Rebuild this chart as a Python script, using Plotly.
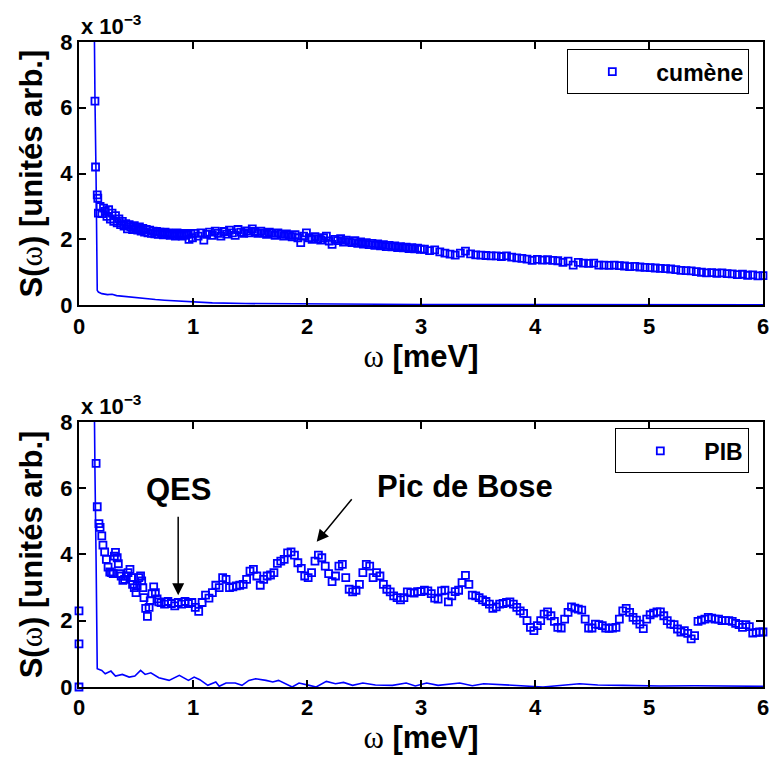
import plotly.graph_objects as go

# ---------------- data (S(omega) in units of 1e-3) ----------------
def grid(start, step, n):
    return [round(start + i * step, 4) for i in range(n)]

# cumène (top panel) - markers
cum_x_a = [0.14, 0.145, 0.16, 0.165]
cum_y_a = [6.2, 4.2, 3.35, 3.25]
cum_y_b = [2.80, 3.00, 2.78, 2.95, 2.85, 2.70, 2.90, 2.62, 2.80, 2.55, 2.72, 2.50, 2.62, 2.45,
           2.55, 2.40, 2.48, 2.32, 2.45, 2.38, 2.30, 2.42, 2.33, 2.28, 2.38, 2.25, 2.33, 2.22,
           2.30, 2.20, 2.28, 2.18, 2.25, 2.17, 2.24, 2.15, 2.22, 2.20, 2.14, 2.22, 2.16, 2.20,
           2.12, 2.18, 2.15, 2.10, 2.20, 2.14, 2.17, 2.10, 2.18, 2.12, 2.15, 2.00, 2.18, 2.05]
cum_x_b = grid(0.17, 0.015, len(cum_y_b))
cum_y_c = [2.18, 2.10, 2.20, 1.98, 2.15, 2.22, 2.12, 2.25, 2.18, 2.10, 2.24, 2.16, 2.28, 2.20,
           2.12, 2.30, 2.22, 2.18, 2.26, 2.20, 2.32, 2.24, 2.18, 2.25, 2.20, 2.15, 2.22, 2.18,
           2.12, 2.20, 2.15, 2.10, 2.17, 2.12, 2.08, 2.14, 2.05, 1.90, 2.10, 2.20, 2.05, 2.00,
           2.08, 2.02, 1.98, 2.05, 2.10, 1.95, 1.85, 2.00, 1.96, 2.02, 1.92, 1.98, 1.93, 1.90,
           1.96, 1.88, 1.92, 1.86, 1.90, 1.84, 1.88, 1.82, 1.86, 1.80, 1.84, 1.78, 1.82, 1.77,
           1.80, 1.75, 1.78, 1.74, 1.76, 1.72, 1.75, 1.71, 1.73, 1.70]
cum_x_c = grid(1.02, 0.025, len(cum_y_c))
cum_y_d = [1.70, 1.66, 1.68, 1.62, 1.58, 1.55, 1.52, 1.58, 1.64, 1.56, 1.53, 1.52, 1.51, 1.50,
           1.50, 1.48, 1.50, 1.46, 1.44, 1.42, 1.40, 1.36, 1.39, 1.37, 1.38, 1.36, 1.35, 1.30,
           1.34, 1.22, 1.30, 1.28, 1.27, 1.28, 1.22, 1.22, 1.21, 1.22, 1.20, 1.19, 1.17, 1.18,
           1.16, 1.15, 1.14, 1.13, 1.12, 1.11, 1.10, 1.08, 1.06, 1.05, 1.04, 1.02, 1.00, 0.98,
           0.99, 0.97, 0.98, 0.96, 0.95, 0.93, 0.94, 0.91, 0.92, 0.89, 0.90]
cum_x_d = grid(3.03, 0.045, len(cum_y_d))
cumene_x = cum_x_a + cum_x_b + cum_x_c + cum_x_d
cumene_y = cum_y_a + cum_y_b + cum_y_c + cum_y_d

# cumène resolution (line)
res1_x = [0.12, 0.13, 0.14, 0.15, 0.155, 0.16, 0.17, 0.2, 0.25, 0.29, 0.33, 0.38, 0.44, 0.5,
          0.58, 0.67, 0.75, 0.88, 1.0, 1.17, 1.46, 1.8, 2.2, 2.6, 3.0, 3.5, 4.0, 4.5, 5.0, 5.5, 6.0]
res1_y = [14.0, 9.0, 6.3, 3.8, 2.0, 0.45, 0.40, 0.35, 0.32, 0.33, 0.29, 0.27, 0.25, 0.23,
          0.20, 0.17, 0.15, 0.12, 0.10, 0.07, 0.05, 0.04, 0.03, 0.03, 0.02, 0.02, 0.02, 0.01,
          0.01, 0.01, 0.01]

# PIB (bottom panel) - markers
pib_x_a = [0.0, 0.0, 0.0, 0.15, 0.16, 0.175, 0.185, 0.2, 0.21, 0.225, 0.24, 0.255, 0.27, 0.285,
           0.30, 0.31, 0.32, 0.335, 0.345, 0.36, 0.37, 0.385, 0.40, 0.415, 0.43, 0.447, 0.46,
           0.47, 0.485, 0.50, 0.51, 0.525, 0.54, 0.55, 0.56, 0.57, 0.585, 0.60, 0.615, 0.625,
           0.64, 0.655, 0.67, 0.685, 0.70]
pib_y_a = [0.0, 1.3, 2.3, 6.75, 5.44, 4.93, 4.82, 4.56, 4.28, 4.08, 3.85, 3.62, 3.47, 3.45,
           3.42, 3.95, 4.06, 3.90, 3.72, 3.42, 3.35, 3.22, 3.25, 3.35, 3.45, 3.55, 3.30,
           3.10, 3.00, 2.85, 3.05, 3.30, 3.35, 3.20, 3.00, 2.70, 2.37, 2.13, 2.40, 2.60,
           2.82, 3.02, 2.85, 2.66, 2.57]
pib_y_b = [2.55, 2.50, 2.58, 2.52, 2.45, 2.55, 2.50, 2.58, 2.52, 2.55, 2.40, 2.28, 2.55, 2.77,
           2.68, 2.85, 3.07, 3.00, 3.30, 3.25, 3.00, 3.02, 3.05, 3.07, 3.10, 3.25, 3.50, 3.55,
           3.35, 3.07, 3.25, 3.35, 3.38, 3.45, 3.73, 3.80, 3.85, 4.05, 4.08, 3.98, 3.75, 3.58,
           3.35, 3.30, 3.45, 3.80, 3.98, 3.90, 3.65, 3.42, 3.18, 3.35, 3.65, 3.70, 3.30, 2.95,
           2.87, 2.92, 3.10, 3.45, 3.70, 3.65, 3.30, 3.45, 3.35, 3.10, 2.95, 2.87, 2.75, 2.70,
           2.63, 2.70, 2.87, 2.85, 2.83, 2.88, 2.88, 2.92, 2.90, 2.82, 2.68, 2.65, 2.90, 2.92,
           2.57, 2.75, 2.88, 2.92, 3.15, 3.37, 3.10, 2.77, 2.75, 2.70, 2.63, 2.58, 2.50, 2.37,
           2.42, 2.50, 2.52, 2.55, 2.57, 2.50, 2.40, 2.30, 2.22, 2.00, 1.80, 1.70, 1.85, 2.00,
           2.20, 2.27, 2.15, 1.98, 1.80, 1.78, 2.05, 2.25, 2.42, 2.38, 2.35, 2.32, 2.05, 1.78,
           1.78, 1.90, 1.88, 1.85, 1.78, 1.77, 1.78, 1.80, 2.05, 2.30, 2.37, 2.25, 2.10, 2.02,
           1.90, 1.76, 2.05, 2.18, 2.23, 2.27, 2.27, 2.15, 2.00, 1.90, 1.88, 1.75, 1.66, 1.70,
           1.62, 1.45, 1.55, 1.98, 2.02, 2.05, 2.10, 2.08, 2.05, 2.05, 2.00, 2.00, 2.00, 1.98,
           1.92, 1.88, 1.80, 1.88, 1.82, 1.63, 1.65, 1.66, 1.66]
pib_x_b = grid(0.72, 0.03, len(pib_y_b))
pib_x = pib_x_a + pib_x_b
pib_y = pib_y_a + pib_y_b

# PIB resolution (line)
res2_x = [0.12, 0.13, 0.14, 0.15, 0.155, 0.16, 0.2, 0.23, 0.28, 0.32, 0.38, 0.44, 0.49, 0.54,
          0.58, 0.63, 0.7, 0.79, 0.88, 0.96, 1.01, 1.06, 1.13, 1.2, 1.23, 1.29, 1.37, 1.43,
          1.49, 1.55, 1.64, 1.7, 1.75, 1.81, 1.87, 1.93, 1.97, 2.02, 2.08, 2.17, 2.25, 2.32,
          2.4, 2.49, 2.6, 2.75, 2.87, 2.95, 3.05, 3.15, 3.34, 3.45, 3.55, 3.8, 4.07, 4.39,
          4.55, 4.77, 5.1, 5.4, 5.7, 6.0]
res2_y = [14.0, 9.0, 6.5, 3.8, 2.0, 0.55, 0.50, 0.40, 0.48, 0.33, 0.38, 0.30, 0.33, 0.50,
          0.38, 0.43, 0.28, 0.20, 0.35, 0.20, 0.30, 0.22, 0.05, 0.15, 0.02, 0.12, 0.12, 0.05,
          0.20, 0.25, 0.20, 0.15, 0.20, 0.10, 0.00, 0.12, 0.08, 0.05, 0.00, 0.17, 0.10, 0.14,
          0.05, 0.12, 0.06, 0.05, 0.12, 0.03, 0.12, 0.05, 0.12, 0.04, 0.10, 0.06, 0.00, 0.10,
          0.06, 0.05, 0.03, 0.04, 0.02, 0.02]

x_ticks = [0, 1, 2, 3, 4, 5, 6]
y_ticks = [0, 2, 4, 6, 8]

# ---------------- figure ----------------
BLUE = "rgb(0,0,255)"
FONT = "Liberation Sans, Arial, Helvetica, sans-serif"
OMEGA = "<span style=\"font-family:'Liberation Serif',Times,serif;font-weight:normal\">ω</span>"
MARKER = dict(symbol="square-open", size=7, color=BLUE, line=dict(width=1.8, color=BLUE))

fig = go.Figure()

fig.add_trace(go.Scatter(x=cumene_x, y=cumene_y, mode="markers", name="cumène",
                         marker=MARKER, cliponaxis=False, xaxis="x", yaxis="y",
                         legend="legend"))
fig.add_trace(go.Scatter(x=res1_x, y=res1_y, mode="lines", showlegend=False,
                         line=dict(color=BLUE, width=1.6), xaxis="x", yaxis="y"))
fig.add_trace(go.Scatter(x=pib_x, y=pib_y, mode="markers", name="PIB",
                         marker=MARKER, cliponaxis=False, xaxis="x2", yaxis="y2",
                         legend="legend2"))
fig.add_trace(go.Scatter(x=res2_x, y=res2_y, mode="lines", showlegend=False,
                         line=dict(color=BLUE, width=1.6), xaxis="x2", yaxis="y2"))

axis_common = dict(showline=True, linecolor="black", linewidth=2, mirror="ticks",
                   ticks="inside", ticklen=7, tickwidth=2, tickcolor="black",
                   showgrid=False, zeroline=False, automargin=False,
                   ticklabeloverflow="allow",
                   tickfont=dict(family=FONT, size=22, color="black", weight="bold"))

xt = dict(axis_common, range=[0, 6], tickvals=x_ticks, ticktext=[str(v) for v in x_ticks],
          title=dict(text=OMEGA + " [meV]", standoff=6,
                     font=dict(family=FONT, size=31, color="black", weight="bold")))
yt = dict(axis_common, range=[0, 8], tickvals=y_ticks, ticktext=[str(v) for v in y_ticks],
          title=dict(text="S(" + OMEGA + ") [unités arb.]", standoff=8,
                     font=dict(family=FONT, size=31, color="black", weight="bold")))

top_dom = [0.592, 1.0]
bot_dom = [0.0, 0.411]
LEG_FONT = dict(family=FONT, size=23, color="black", weight="bold")

fig.update_layout(
    width=769, height=760,
    margin=dict(l=79, r=6, t=42, b=73, autoexpand=False),
    paper_bgcolor="white", plot_bgcolor="white",
    font=dict(family=FONT, color="black"),
    xaxis=dict(xt, domain=[0, 1], anchor="y"),
    yaxis=dict(yt, domain=top_dom, anchor="x"),
    xaxis2=dict(xt, domain=[0, 1], anchor="y2"),
    yaxis2=dict(yt, domain=bot_dom, anchor="x2"),
    legend=dict(x=0.98, y=0.989, xanchor="right", yanchor="top", bgcolor="white",
                bordercolor="black", borderwidth=1, itemwidth=78, font=LEG_FONT),
    legend2=dict(x=0.98, y=0.401, xanchor="right", yanchor="top", bgcolor="white",
                 bordercolor="black", borderwidth=1, itemwidth=78, font=LEG_FONT),
    showlegend=True,
)

annots = []
for ydom in (top_dom, bot_dom):
    annots.append(dict(text="x 10<sup>−3</sup>", xref="paper", yref="paper", x=0.0,
                       y=ydom[1], xanchor="left", yanchor="bottom", yshift=1,
                       showarrow=False,
                       font=dict(family=FONT, size=22, color="black", weight="bold")))
annots += [
    # QES label with its vertical arrow
    dict(text="QES", x=0.87, y=2.77, ax=0.87, ay=5.95, xref="x2", yref="y2",
         axref="x2", ayref="y2", showarrow=True, arrowhead=2, arrowsize=1.6,
         arrowwidth=1.5, arrowcolor="black", startstandoff=8,
         font=dict(family=FONT, size=31, color="black", weight="bold")),
    dict(text="Pic de Bose", x=3.39, y=6.06, xref="x2", yref="y2", showarrow=False,
         font=dict(family=FONT, size=31, color="black", weight="bold")),
    dict(text=" ", x=2.085, y=4.38, ax=2.41, ay=5.74, xref="x2", yref="y2",
         axref="x2", ayref="y2", showarrow=True, arrowhead=2, arrowsize=1.6,
         arrowwidth=1.5, arrowcolor="black", font=dict(size=2)),
]
fig.update_layout(annotations=annots)

fig.write_html("out.html", config={"displayModeBar": False},
               post_script="document.body.style.margin='0';document.body.style.overflow='hidden';")
